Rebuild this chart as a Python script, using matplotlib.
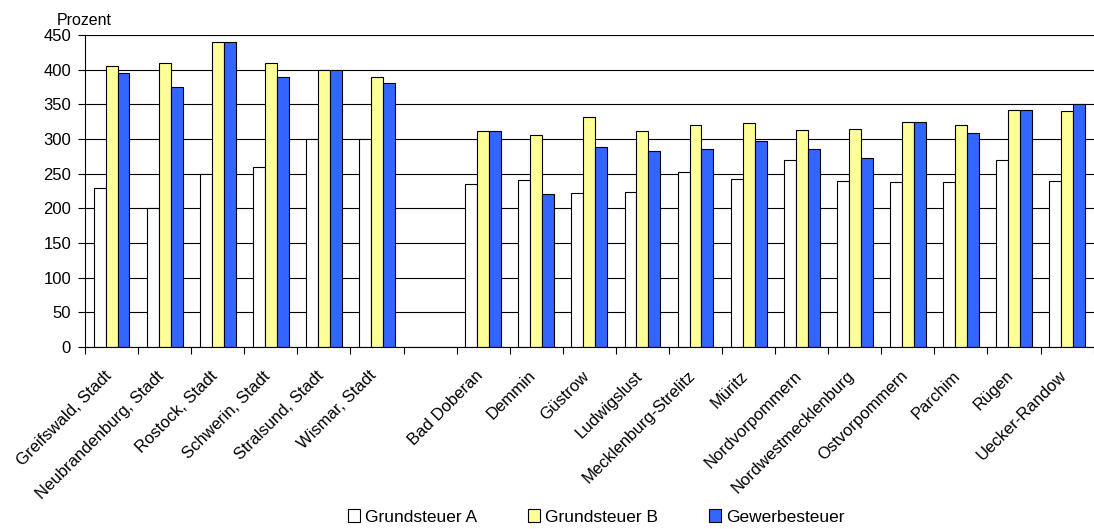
import numpy as np
import matplotlib
matplotlib.use("Agg")
import matplotlib.pyplot as plt
import matplotlib.transforms as mtransforms
from matplotlib.ticker import FixedLocator, NullFormatter

plt.rcParams['font.family'] = ['Liberation Sans', 'DejaVu Sans']

# kreisfreie Staedte, dann Landkreise (eine Leerstelle dazwischen)
staedte = ['Greifswald, Stadt', 'Neubrandenburg, Stadt', 'Rostock, Stadt',
           'Schwerin, Stadt', 'Stralsund, Stadt', 'Wismar, Stadt']
kreise = ['Bad Doberan', 'Demmin', 'Güstrow', 'Ludwigslust', 'Mecklenburg-Strelitz',
          'Müritz', 'Nordvorpommern', 'Nordwestmecklenburg', 'Ostvorpommern',
          'Parchim', 'Rügen', 'Uecker-Randow']

grund_a_staedte = [230, 200, 250, 260, 300, 300]
grund_b_staedte = [405, 410, 440, 410, 400, 390]
gewerbe_staedte = [395, 375, 440, 390, 400, 380]

grund_a_kreise = [235, 241, 222, 223, 253, 242, 270, 240, 238, 238, 269, 240]
grund_b_kreise = [312, 305, 331, 311, 320, 323, 313, 315, 324, 320, 342, 340]
gewerbe_kreise = [311, 221, 289, 283, 285, 297, 285, 273, 324, 308, 342, 351]

labels = staedte + [''] + kreise
gap = [np.nan]
grund_a = np.array(grund_a_staedte + gap + grund_a_kreise, dtype=float)
grund_b = np.array(grund_b_staedte + gap + grund_b_kreise, dtype=float)
gewerbe = np.array(gewerbe_staedte + gap + gewerbe_kreise, dtype=float)

x = np.arange(len(labels))
w = 0.225

fig = plt.figure(figsize=(10.94, 5.29), dpi=100)
ax = fig.add_axes([0.0777, 0.344, 0.922, 0.590])

ax.set_axisbelow(True)
ax.yaxis.grid(True, color='black', linewidth=0.8)

ax.bar(x - w, grund_a, w, color='white', edgecolor='black', linewidth=0.8, label='Grundsteuer A')
ax.bar(x, grund_b, w, color='#FFFF99', edgecolor='black', linewidth=0.8, label='Grundsteuer B')
ax.bar(x + w, gewerbe, w, color='#3366FF', edgecolor='black', linewidth=0.8, label='Gewerbesteuer')

ax.set_xlim(-0.5, len(labels) - 0.5)
ax.set_ylim(0, 450)
ax.set_yticks(np.arange(0, 451, 50))

ax.set_xticks(x)
ax.set_xticklabels(labels, rotation=45, ha='right', rotation_mode='anchor', fontsize=12)
ax.tick_params(axis='x', which='major', length=0, pad=8)
ax.xaxis.set_minor_locator(FixedLocator(np.arange(-0.5, len(labels), 1.0)))
ax.xaxis.set_minor_formatter(NullFormatter())
ax.tick_params(axis='x', which='minor', length=5, width=0.8, direction='out')
ax.tick_params(axis='y', length=5, width=0.8, labelsize=12, pad=5)

# Beschriftungen etwas nach links unten schieben
shift = mtransforms.ScaledTranslation(-8 / 100, -10 / 100, fig.dpi_scale_trans)
for lab in ax.get_xticklabels():
    lab.set_transform(lab.get_transform() + shift)

for s in ['top', 'right']:
    ax.spines[s].set_visible(False)
for s in ['left', 'bottom']:
    ax.spines[s].set_linewidth(0.8)

fig.text(0.052, 0.952, 'Prozent', fontsize=11.5)

fig.legend(loc='center', bbox_to_anchor=(0.545, 0.0227), ncol=3, frameon=False,
           fontsize=12.5, handlelength=0.7, handleheight=0.7, handletextpad=0.3,
           columnspacing=2.9, borderpad=0)

fig.savefig('out.png', dpi=100)
